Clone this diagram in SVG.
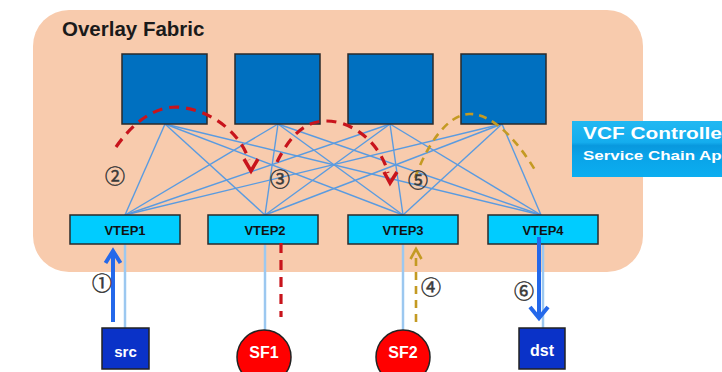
<svg xmlns="http://www.w3.org/2000/svg" width="722" height="372" viewBox="0 0 722 372">
  <style>
    .lbl { font-family: "Liberation Sans", Arial, sans-serif; font-weight: bold; }
    .spine { fill: #0070C0; stroke: #2a2a2a; stroke-width: 1.5; }
    .vtep { fill: #00CCFF; stroke: #2a2a2a; stroke-width: 1.5; }
    .vtep-t { font-size: 13px; fill: #111; text-anchor: middle; }
    .host { fill: #0A32C8; stroke: #222; stroke-width: 1.5; }
    .sf { fill: #FF0000; stroke: #222; stroke-width: 1.5; }
    .end-t { fill: #fff; text-anchor: middle; }
    .mesh line { stroke: #5A9BE0; stroke-width: 1.4; }
    .access { stroke: #9CC8F0; stroke-width: 2.5; fill: none; }
    .red { stroke: #C8141C; stroke-width: 3.2; fill: none; stroke-dasharray: 10 7; }
    .red-head { stroke: #C8141C; stroke-width: 3.5; fill: none; stroke-linejoin: miter; }
    .gold { stroke: #C49A22; stroke-width: 2.6; fill: none; stroke-dasharray: 8 6; }
    .gold-head { stroke: #C49A22; stroke-width: 2.6; fill: none; }
    .blue { stroke: #2468EA; stroke-width: 4; fill: none; }
    .step { font-family: "Noto Sans CJK SC", "DejaVu Sans", sans-serif; font-size: 20px; fill: #3a3a3a; stroke: #3a3a3a; stroke-width: 0.5; text-anchor: middle; dominant-baseline: central; }
  </style>
  <defs>
    <linearGradient id="ctrlFill" x1="0" y1="0" x2="0" y2="1">
      <stop offset="0" stop-color="#22B8F2"/>
      <stop offset="0.38" stop-color="#14ADEE"/>
      <stop offset="0.44" stop-color="#0898DE"/>
      <stop offset="0.62" stop-color="#0AA3E8"/>
      <stop offset="1" stop-color="#0BAEF0"/>
    </linearGradient>
  </defs>

  <rect width="722" height="372" fill="#ffffff"/>

  <!-- fabric area -->
  <g id="overlay-fabric">
    <rect x="33" y="10" width="610" height="262" rx="36" ry="36" fill="#F8CBAD"/>
    <text class="lbl" x="62" y="36" font-size="20.5" fill="#1a1a1a">Overlay Fabric</text>
  </g>

  <!-- spine-to-VTEP mesh and access links -->
  <g id="connectors">
    <g class="mesh">
      <line x1="165" y1="124" x2="125" y2="215"/>
      <line x1="165" y1="124" x2="265" y2="215"/>
      <line x1="165" y1="124" x2="403" y2="215"/>
      <line x1="165" y1="124" x2="541" y2="215"/>
      <line x1="278" y1="124" x2="125" y2="215"/>
      <line x1="278" y1="124" x2="265" y2="215"/>
      <line x1="278" y1="124" x2="403" y2="215"/>
      <line x1="278" y1="124" x2="541" y2="215"/>
      <line x1="390" y1="124" x2="125" y2="215"/>
      <line x1="390" y1="124" x2="265" y2="215"/>
      <line x1="390" y1="124" x2="403" y2="215"/>
      <line x1="390" y1="124" x2="541" y2="215"/>
      <line x1="502" y1="124" x2="125" y2="215"/>
      <line x1="502" y1="124" x2="265" y2="215"/>
      <line x1="502" y1="124" x2="403" y2="215"/>
      <line x1="502" y1="124" x2="541" y2="215"/>
    </g>
    <line class="access" x1="125" y1="244" x2="125" y2="328"/>
    <line class="access" x1="265" y1="244" x2="265" y2="331"/>
    <line class="access" x1="403" y1="244" x2="403" y2="331"/>
    <line class="access" x1="543" y1="244" x2="543" y2="328"/>
  </g>

  <!-- spine switches -->
  <g id="spine1"><rect class="spine" x="122" y="54" width="85" height="70"/></g>
  <g id="spine2"><rect class="spine" x="235" y="54" width="85" height="70"/></g>
  <g id="spine3"><rect class="spine" x="348" y="54" width="85" height="70"/></g>
  <g id="spine4"><rect class="spine" x="461" y="54" width="85" height="70"/></g>

  <!-- VTEPs -->
  <g id="vtep1"><rect class="vtep" x="70" y="215" width="110" height="29"/><text class="lbl vtep-t" x="125" y="234.5">VTEP1</text></g>
  <g id="vtep2"><rect class="vtep" x="208" y="215" width="110" height="29"/><text class="lbl vtep-t" x="265" y="234.5">VTEP2</text></g>
  <g id="vtep3"><rect class="vtep" x="348" y="215" width="110" height="29"/><text class="lbl vtep-t" x="403" y="234.5">VTEP3</text></g>
  <g id="vtep4"><rect class="vtep" x="488" y="215" width="110" height="29"/><text class="lbl vtep-t" x="543" y="234.5">VTEP4</text></g>

  <!-- endpoints and service functions -->
  <g id="src"><rect class="host" x="102" y="328" width="47" height="41"/><text class="lbl end-t" x="125.5" y="357" font-size="15">src</text></g>
  <g id="sf1"><circle class="sf" cx="264" cy="357" r="27"/><text class="lbl end-t" x="264" y="358" font-size="16">SF1</text></g>
  <g id="sf2"><circle class="sf" cx="403" cy="357" r="27"/><text class="lbl end-t" x="403" y="358" font-size="16">SF2</text></g>
  <g id="dst"><rect class="host" x="519" y="328" width="46" height="41"/><text class="lbl end-t" x="542" y="356" font-size="16">dst</text></g>

  <!-- controller -->
  <g id="vcf-controller">
    <rect x="572" y="121" width="160" height="56" fill="url(#ctrlFill)"/>
    <text class="lbl" x="583" y="139" font-size="16" fill="#ffffff" textLength="147" lengthAdjust="spacingAndGlyphs">VCF Controller</text>
    <text class="lbl" x="583" y="160" font-size="13" fill="#ffffff" textLength="149" lengthAdjust="spacingAndGlyphs">Service Chain App</text>
  </g>

  <!-- service chain path -->
  <g id="chain-path">
    <!-- step 1: src up into VTEP1 -->
    <line class="blue" x1="113" y1="322" x2="113" y2="252"/>
    <polyline class="blue" points="105.5,263 113,251 120.5,263"/>
    <!-- step 2: VTEP1 over spine to VTEP2 -->
    <path class="red" d="M116,147 C132,124 153,107 176,107 C205,108 238,128 249,160"/>
    <polyline class="red-head" points="244,159 251,171 258,159"/>
    <!-- VTEP2 to SF1 and back -->
    <line class="red" x1="281" y1="243" x2="281" y2="317"/>
    <!-- step 3: VTEP2 over spine to VTEP3 -->
    <path class="red" d="M277,162 C290,136 304,122 324,121 C354,120 381,145 388,173"/>
    <polyline class="red-head" points="384,172 390,183 397,172"/>
    <!-- step 4: SF2 back to VTEP3 -->
    <line class="gold" x1="416" y1="322" x2="416" y2="250"/>
    <polyline class="gold-head" points="410.5,259 416,249 421.5,259"/>
    <!-- step 5: VTEP3 over spine toward VTEP4 -->
    <path class="gold" d="M415,178 C425,150 445,115 469,114 C494,113 520,145 535,170"/>
    <!-- step 6: VTEP4 down to dst -->
    <line class="blue" x1="539" y1="237" x2="539" y2="317"/>
    <polyline class="blue" points="530,307 539,318 548,307"/>
  </g>

  <!-- step numbers -->
  <g id="step-labels">
    <text class="step" x="102" y="282">①</text>
    <text class="step" x="115" y="175">②</text>
    <text class="step" x="280" y="178">③</text>
    <text class="step" x="431" y="286">④</text>
    <text class="step" x="418" y="179">⑤</text>
    <text class="step" x="524" y="290">⑥</text>
  </g>
</svg>
